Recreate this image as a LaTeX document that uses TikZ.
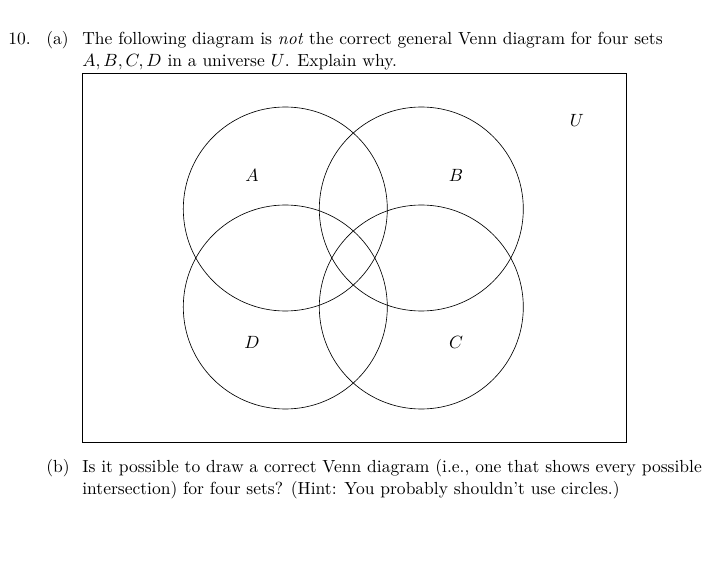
\documentclass[tikz,border=0pt]{standalone}
\usepackage{tikz}
\usetikzlibrary{positioning}

\begin{document}
\begin{tikzpicture}[
      x=0.618pt, y=-0.618pt,
      txt/.style={font=\fontsize{10.82}{13.4}\selectfont, inner sep=0pt},
      line/.style={txt, anchor=base west},
      item/.style={txt, anchor=base east},
      setlabel/.style={txt},
      setcirc/.style={draw, line width=0.4pt}
    ]
      \useasboundingbox (0,0) rectangle (719,570);
      % question text
      \node[line] (num) at (8,45) {10.};
      \node[item] (ia) at (69,45) {(a)};
      \node[line] (qa1) at (82,45) {The following diagram is \emph{not} the correct general Venn diagram for four sets};
      \node[line] (qa2) at (82,67) {$A, B, C, D$ in a universe $U$. Explain why.};
      % universe
      \draw[line width=0.4pt] (82,73) rectangle (626,442);
      \node[setlabel] (U) at (577,120) {$U$};
      % the four sets
      \draw[setcirc] (285.3,209) circle[radius=102];
      \draw[setcirc] (421.3,209) circle[radius=102];
      \draw[setcirc] (421.3,307) circle[radius=102];
      \draw[setcirc] (285.3,307) circle[radius=102];
      \node[setlabel] (A) at (252,175) {$A$};
      \node[setlabel] (B) at (456,175) {$B$};
      \node[setlabel] (C) at (456,342) {$C$};
      \node[setlabel] (D) at (252,342) {$D$};
      % part (b)
      \node[item] (ib) at (70,472) {(b)};
      \node[line] (qb1) at (82,472) {Is it possible to draw a correct Venn diagram (i.e., one that shows every possible};
      \node[line] (qb2) at (82,494) {intersection) for four sets? (Hint: You probably shouldn't use circles.)};
    \end{tikzpicture}
\end{document}
